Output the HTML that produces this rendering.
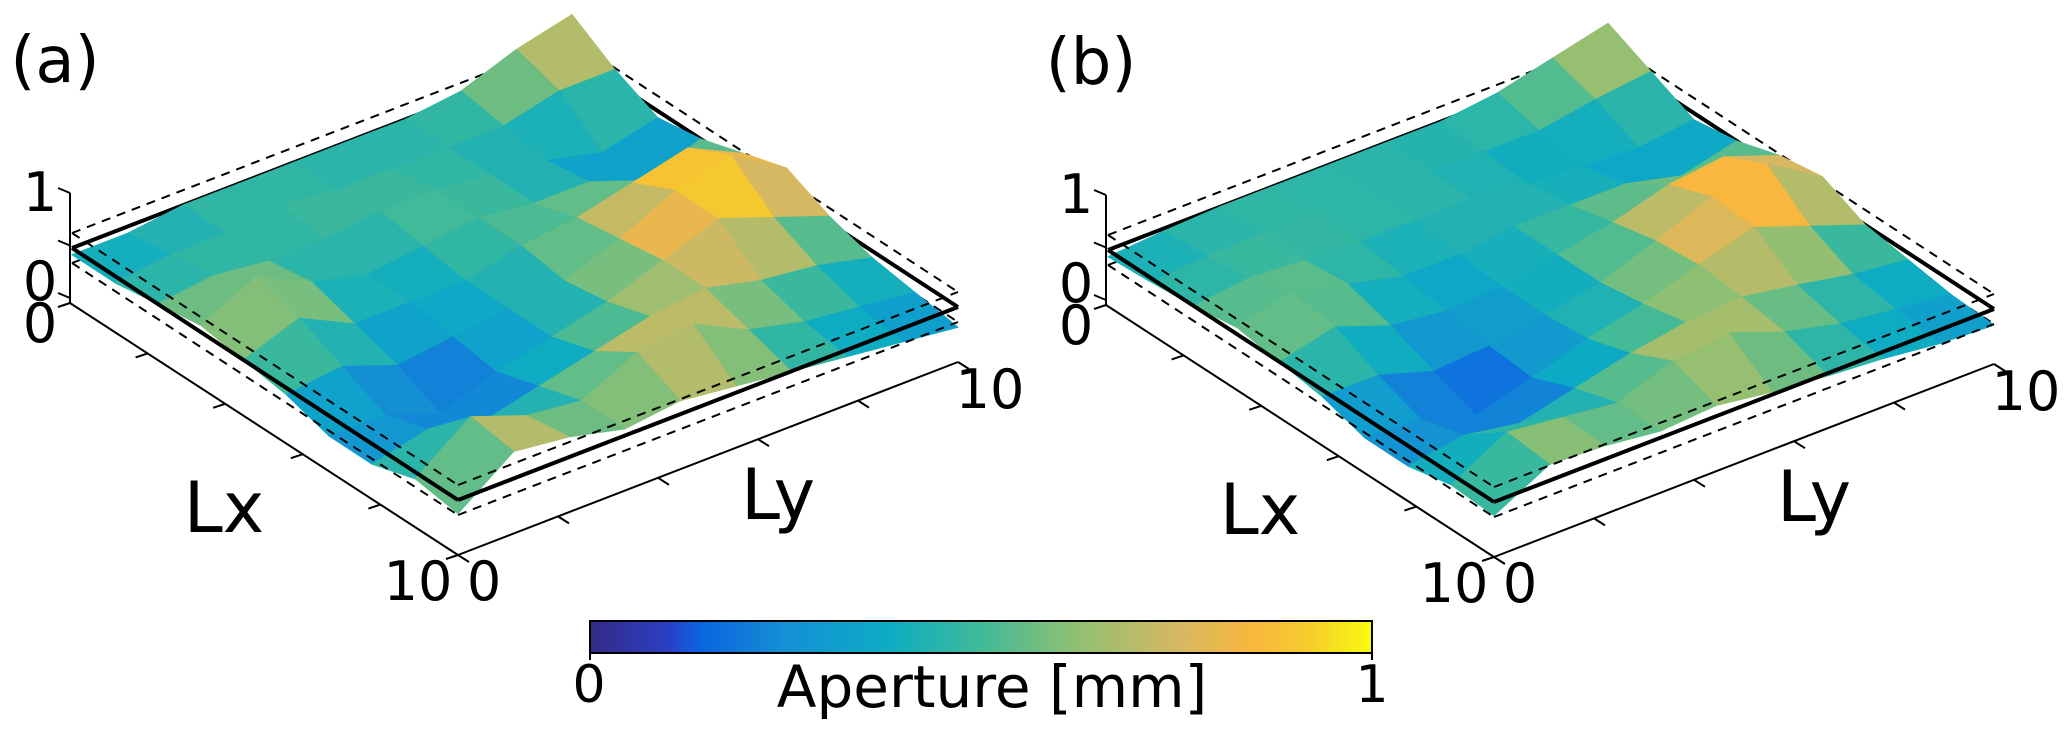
<!DOCTYPE html>
<html><head><meta charset="utf-8"><style>
body{margin:0;background:#fff;}
svg{display:block;font-family:"DejaVu Sans","Liberation Sans",sans-serif;}
</style></head><body>
<svg id="fig" width="2067" height="743" viewBox="0 0 2067 743" xmlns="http://www.w3.org/2000/svg">
<defs>
<linearGradient id="parula" x1="0" x2="1" y1="0" y2="0">
<stop offset="0" stop-color="#352a87"/><stop offset="0.1" stop-color="#2a3fc4"/><stop offset="0.14" stop-color="#0a64e0"/>
<stop offset="0.25" stop-color="#1590d4"/><stop offset="0.38" stop-color="#0cacc4"/><stop offset="0.5" stop-color="#40ba98"/>
<stop offset="0.62" stop-color="#8fc073"/><stop offset="0.75" stop-color="#d4b862"/><stop offset="0.85" stop-color="#fbb73e"/>
<stop offset="0.92" stop-color="#f5cd2b"/><stop offset="1" stop-color="#f9fb0e"/>
</linearGradient>
</defs>
<g id="panelA"></g>
<g id="panelB"></g>
<g>
<rect x="590" y="621" width="782" height="32" fill="url(#parula)" stroke="#000" stroke-width="2"/>
<line x1="590" y1="653" x2="590" y2="660" stroke="#000" stroke-width="2"/>
<line x1="1372" y1="653" x2="1372" y2="660" stroke="#000" stroke-width="2"/>
<text x="589" y="702" font-size="52" text-anchor="middle">0</text>
<text x="1372" y="702" font-size="52" text-anchor="middle">1</text>
<text x="992" y="707" font-size="58" text-anchor="middle">Aperture [mm]</text>
</g>
</svg>
<script>
const gridA = [
[.45,.45,.5,.5,.5,.5,.5,.55,.7,.8],
[.45,.5,.5,.55,.5,.5,.5,.5,.6,.6],
[.5,.55,.5,.5,.55,.55,.5,.45,.35,.45],
[.55,.75,.55,.45,.5,.55,.5,.5,.35,.5],
[.5,.65,.45,.45,.45,.55,.6,.7,.8,.6],
[.45,.5,.35,.4,.45,.5,.65,.85,.95,.7],
[.35,.35,.2,.35,.45,.55,.7,.85,.7,.55],
[.35,.45,.35,.45,.55,.65,.7,.6,.55,.45],
[.45,.75,.6,.55,.75,.8,.6,.5,.45,.4],
[.4,.7,.65,.55,.6,.55,.5,.45,.4,.35]];
const gridB = [
[.45,.48,.5,.5,.5,.5,.5,.55,.65,.75],
[.47,.5,.52,.52,.5,.5,.48,.48,.55,.6],
[.5,.55,.52,.5,.5,.5,.45,.42,.4,.45],
[.55,.65,.55,.45,.45,.5,.5,.5,.4,.5],
[.5,.6,.45,.4,.42,.5,.58,.7,.75,.6],
[.45,.45,.32,.35,.42,.5,.65,.82,.9,.65],
[.35,.33,.2,.32,.45,.55,.68,.8,.65,.5],
[.35,.42,.35,.45,.55,.62,.65,.58,.5,.45],
[.42,.65,.6,.55,.7,.75,.6,.5,.45,.4],
[.4,.62,.6,.55,.58,.52,.48,.45,.4,.38]];
const axisTicks = [0,2,4,6,8,10];
const zTickLabels = ["1","0"];

const NS="http://www.w3.org/2000/svg";
const cmapStops=[[0,[53,42,135]],[0.1,[42,63,196]],[0.14,[10,100,224]],[0.25,[21,144,212]],[0.38,[12,172,196]],[0.5,[64,186,152]],[0.62,[143,192,115]],[0.75,[212,184,98]],[0.85,[251,183,62]],[0.92,[245,205,43]],[1,[249,251,14]]];
function cmap(v){v=0.45+(v-0.5)*1.35;v=Math.max(0,Math.min(1,v));
 for(let k=1;k<cmapStops.length;k++){const a=cmapStops[k-1],b=cmapStops[k];
  if(v<=b[0]){const t=(v-a[0])/(b[0]-a[0]);const c=a[1].map((x,i)=>Math.round(x+(b[1][i]-x)*t));return `rgb(${c[0]},${c[1]},${c[2]})`;}}
 return "rgb(249,251,14)";}
function mk(tag,attrs,parent){const e=document.createElementNS(NS,tag);for(const k in attrs)e.setAttribute(k,attrs[k]);parent.appendChild(e);return e;}

function panel(g,ox,oy,grid,label){
 const L=[72+ox,248+oy],U=[386,252],V=[500,-193],H=135;
 const P=(u,v,dz)=>[L[0]+u*U[0]+v*V[0],L[1]+u*U[1]+v*V[1]+(dz||0)];
 const line=(a,b,dash,w,name)=>{const e=mk("line",{x1:a[0],y1:a[1],x2:b[0],y2:b[1],stroke:"#000","stroke-width":w},g);if(dash)e.setAttribute("stroke-dasharray",dash);
  
  };
 [-15,15].forEach(d=>{line(P(0,0,d),P(0,1,d),"9,7",2,"dashed-plane-edge");line(P(0,1,d),P(1,1,d),"9,7",2,"dashed-plane-edge");});
 line(P(0,0),P(0,1),null,4,"mean-plane-edge");line(P(0,1),P(1,1),null,4,"mean-plane-edge");
 const n=grid.length,m=grid[0].length;
 const sv=(i,j)=>{const u=i/(n-1),v=j/(m-1);const p=P(u,v);return [p[0],p[1]-(grid[i][j]-0.5)*H];};
 const cells=[];
 for(let i=0;i<n-1;i++)for(let j=0;j<m-1;j++)cells.push([i,j]);
 cells.sort((a,b)=>(a[0]-a[1])-(b[0]-b[1]));
 const sg=mk("g",{},g);
 
 
 cells.forEach(([i,j])=>{
  const pts=[sv(i,j),sv(i+1,j),sv(i+1,j+1),sv(i,j+1)];
  const val=(grid[i][j]+grid[i+1][j]+grid[i+1][j+1]+grid[i][j+1])/4;
  const col=cmap(val);
  const e=mk("polygon",{points:pts.map(p=>p.join(",")).join(" "),fill:col,stroke:col,"stroke-width":1,"stroke-linejoin":"round"},sg);
  
  
 });
 [-15,15].forEach(d=>{line(P(0,0,d),P(1,0,d),"9,7",2,"dashed-plane-edge");line(P(1,0,d),P(1,1,d),"9,7",2,"dashed-plane-edge");});
 line(P(0,0),P(1,0),null,4,"mean-plane-edge");line(P(1,0),P(1,1),null,4,"mean-plane-edge");
 const zx=70+ox, z1=193+oy, z0=298+oy;
 line([zx,z1],[zx,303+oy],null,2,"z-axis");
 [z1,(z1+z0)/2,z0].forEach(y=>line([zx,y],[zx-12,y-5],null,2,"z-tick"));
 zTickLabels.forEach((t,k)=>{const e=mk("text",{x:40+ox,y:(k===0?z1:z0-16)+18,"font-size":54,"text-anchor":"middle"},g);e.textContent=t;
  
  });
 const A0=[70+ox,303+oy],AX=[388,252],B0=[458+ox,555+oy],AY=[500,-193];
 line(A0,[A0[0]+AX[0],A0[1]+AX[1]],null,2,"lx-axis");
 line(B0,[B0[0]+AY[0],B0[1]+AY[1]],null,2,"ly-axis");
 axisTicks.forEach(t=>{const f=t/10;
  const a=[A0[0]+AX[0]*f,A0[1]+AX[1]*f];line(a,[a[0]-12,a[1]+4],null,2,"lx-tick");
  const b=[B0[0]+AY[0]*f,B0[1]+AY[1]*f];line(b,[b[0]+11,b[1]+7],null,2,"ly-tick");});
 const txt=(s,x,y,fs,name)=>{const e=mk("text",{x:x,y:y,"font-size":fs,"text-anchor":"middle"},g);e.textContent=s;
  
  };
 txt("0",40+ox,342+oy,54,"lx-tick-label-0");
 txt(String(axisTicks[axisTicks.length-1]),418+ox,600+oy,54,"lx-tick-label-10");
 txt("0",484+ox,600+oy,54,"ly-tick-label-0");
 txt(String(axisTicks[axisTicks.length-1]),990+ox,408+oy,54,"ly-tick-label-10");
 txt("Lx",224+ox,532+oy,70,"lx-axis-title");
 txt("Ly",778+ox,519+oy,70,"ly-axis-title");
 txt(label,55+ox,82+oy,64,"panel-label");
}
panel(document.getElementById("panelA"),0,0,gridA,"(a)");
panel(document.getElementById("panelB"),1036,2,gridB,"(b)");
</script>
</body></html>
